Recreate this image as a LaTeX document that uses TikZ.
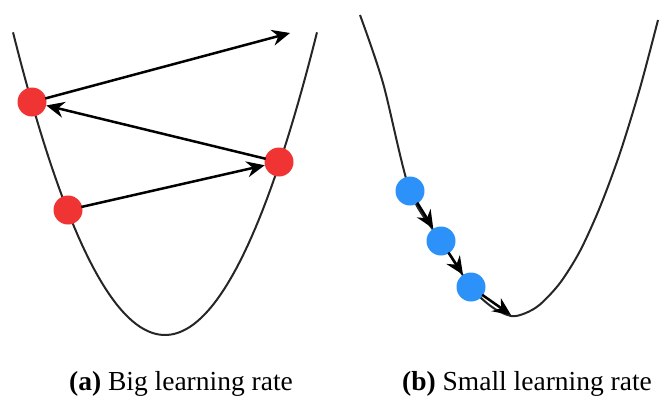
\documentclass[tikz,border=0pt]{standalone}
\usepackage{fontspec}
\setmainfont{Liberation Serif}
\usetikzlibrary{arrows.meta, positioning}

\definecolor{stepred}{RGB}{240,52,52}
\definecolor{stepblue}{RGB}{45,145,250}

\begin{document}
\begin{tikzpicture}[x=1pt, y=-1pt]
    % Node styles for clarity
    \tikzstyle{bowl} = [line width=2pt, black!85, line join=round]
    \tikzstyle{bigstep} = [circle, fill=stepred, minimum size=29pt, inner sep=0pt]
    \tikzstyle{smallstep} = [circle, fill=stepblue, minimum size=29pt, inner sep=0pt]
    \tikzstyle{jump} = [-{Stealth[length=18pt, width=16pt, inset=6pt]}, line width=2.5pt, shorten <=-1pt]
    \tikzstyle{caption} = [font=\fontsize{27.5}{33}\selectfont, anchor=base]

    \useasboundingbox (0,0) rectangle (661,399);

    % Curves
    \draw[bowl] plot[domain=13:317, samples=80] (\x, {335-1.31*((\x-165)/10)^2});
    \draw[bowl] plot[smooth] coordinates {(360,15) (383,83) (410,191) (441,241) (471,287) (492,307) (511,316)
        (525,313.3) (540,304.5) (560,283) (580,251) (600,207) (620,153) (640,88) (658,20)};

    % Nodes
    \node (bigA) [bigstep] at (32,102) {};
    \node (bigB) [bigstep] at (279,162) {};
    \node (bigC) [bigstep] at (68,210) {};
    \coordinate (overshoot) at (290,33);

    \node (smallA) [smallstep] at (410,191) {};
    \node (smallB) [smallstep] at (441,241) {};
    \node (smallC) [smallstep] at (471,287) {};
    \coordinate (bottom) at (511,315);

    % Arrows
    \draw[jump] (bigC) -- (bigB);
    \draw[jump] (bigB) -- (bigA);
    \draw[jump] (bigA) -- (overshoot);

    \draw[jump] (smallA) -- (smallB);
    \draw[jump] (smallB) -- (smallC);
    \draw[jump] (smallC) -- (bottom);

    % Captions
    \node (capA) [caption] at (181,390) {\textbf{(a)} Big learning rate};
    \node (capB) [caption] at (527,390) {\textbf{(b)} Small learning rate};
\end{tikzpicture}
\end{document}
